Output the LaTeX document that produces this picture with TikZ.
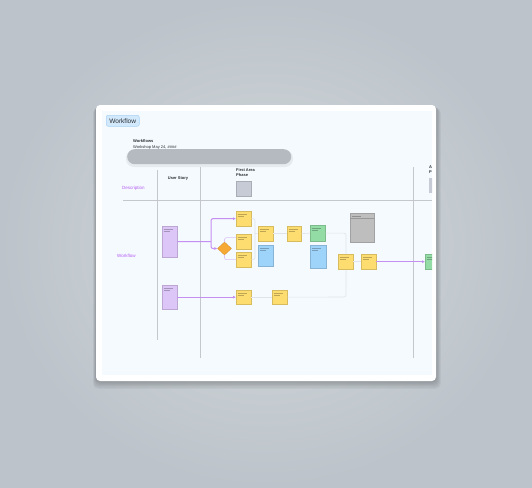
\documentclass[tikz,border=0pt]{standalone}
\usepackage{fontspec}
\setmainfont{Liberation Sans}
\usetikzlibrary{shapes.geometric}
\usetikzlibrary{arrows.meta}

\definecolor{bgcenter}{HTML}{D5DBDC}
\definecolor{bgedge}{HTML}{BCC3CA}
\definecolor{canvas}{HTML}{F5FAFE}
\definecolor{lanegray}{HTML}{C4C8CD}
\definecolor{linkgray}{HTML}{E0E4E8}
\definecolor{flowpurple}{HTML}{C58FF2}
\definecolor{softpurple}{HTML}{DCC0F7}
\definecolor{lanepurple}{HTML}{B45DF2}
\definecolor{notepurple}{HTML}{DCC5F7}
\definecolor{noteyellow}{HTML}{FDDC70}
\definecolor{noteblue}{HTML}{9FD4FA}
\definecolor{notegreen}{HTML}{93DCA5}
\definecolor{boxgray}{HTML}{BEBEBE}
\definecolor{chipgray}{HTML}{C6CBD6}
\definecolor{pillgray}{HTML}{B4BAC0}
\definecolor{tagblue}{HTML}{D2E8FB}
\definecolor{tagborder}{HTML}{A9D2F5}
\definecolor{decision}{HTML}{F6A935}
\definecolor{textdark}{HTML}{2B2F33}

\begin{document}
\begin{tikzpicture}[x=1pt,y=-1pt,
    note/.style={rectangle,anchor=north west,inner sep=0pt,fill=#1,draw=#1!85!black,line width=0.3pt,
        path picture={
            \draw[#1!75!black,line width=0.2pt] ([shift={(1.5pt,-2.5pt)}]path picture bounding box.north west) -- ++(9pt,0pt);
            \draw[#1!75!black,line width=0.2pt] ([shift={(1.5pt,-4.5pt)}]path picture bounding box.north west) -- ++(6pt,0pt);}},
    link/.style={draw=linkgray,line width=0.6pt,rounded corners=2pt},
    softflow/.style={draw=softpurple,line width=0.6pt,rounded corners=2pt},
    flowline/.style={draw=flowpurple,line width=1pt,rounded corners=2pt},
    flow/.style={flowline,-{Latex[length=3pt,width=3pt]}},
    lane/.style={draw=lanegray,line width=0.6pt},
    head/.style={font=\fontsize{4}{5}\selectfont\bfseries,text=textdark,align=left,inner sep=0pt},
    lanelabel/.style={font=\fontsize{4.5}{5}\selectfont,text=lanepurple,inner sep=0pt}
]
    \useasboundingbox (0,0) rectangle (532,487);
    \shade[inner color=bgcenter,outer color=bgedge] (0,0) rectangle (532,487);

    % card with soft shadow
    \foreach \s in {1,...,6} {
        \fill[black,opacity=0.04,rounded corners=5pt] (96-\s*0.5,105+\s*0.5) rectangle (436+\s*0.8,381+\s*1.3);
    }
    \fill[white,rounded corners=4pt] (96,105) rectangle (436,381);
    \fill[canvas] (102,111) rectangle (432,375);

    \begin{scope}
    \clip (102,111) rectangle (432,375);

    % header
    \node at (106,115) [anchor=north west,fill=tagblue,draw=tagborder,line width=0.5pt,rounded corners=2pt,
        minimum width=33pt,minimum height=11pt,inner sep=0pt,text=textdark,
        font=\fontsize{6.5}{7}\selectfont] (tag) {Workflow};
    \node at (133,141) [anchor=west,head] (title) {Workflows};
    \node at (133,147.5) [anchor=west,font=\fontsize{4}{5}\selectfont,text=textdark,inner sep=0pt] (date) {Workshop May 24, \#\#\#\#};
    \fill[black,opacity=0.06,rounded corners=8pt] (126,150) rectangle (293,167);
    \node at (127,149) [anchor=north west,fill=pillgray,rounded corners=7.5pt,
        minimum width=164pt,minimum height=15pt,inner sep=0pt] (pill) {};

    % lanes
    \coordinate (laneL) at (123,200);
    \coordinate (laneR) at (432,200);
    \draw[lane] (laneL) -- (laneR);
    \foreach \x/\top/\bot in {157/170/340,200/167/358,413/167/358} {
        \draw[lane] (\x,\top) -- (\x,\bot);
    }
    \node at (178,179) [head] (story) {User Story};
    \node at (236,168) [anchor=north west,head] (phase) {First Area\\Phase};
    \node at (235.5,181) [anchor=north west,fill=chipgray,draw=chipgray!85!black,line width=0.3pt,
        minimum width=15pt,minimum height=15pt,inner sep=0pt] (chip) {};
    \node at (429,166) [anchor=north west,head] (nextphase) {A\\P};
    \node at (429,178) [anchor=north west,fill=chipgray,minimum width=5pt,minimum height=15pt,inner sep=0pt] (nextchip) {};
    \node at (122,188) [anchor=west,lanelabel] (desc) {Description};
    \node at (117,256) [anchor=west,lanelabel] (work) {Workflow};

    % connectors behind the notes
    \coordinate (merge) at (255,233.5);
    \coordinate (drop) at (346,297);
    \coordinate (split) at (211,241.5);
    \node at (350,213) [note=boxgray,minimum width=24pt,minimum height=29pt] (gC) {};
    \node at (162,226) [note=notepurple,minimum width=15pt,minimum height=31pt] (pA) {};
    \node at (162,285) [note=notepurple,minimum width=15pt,minimum height=24pt] (pB) {};
    \node at (236,211) [note=noteyellow,minimum width=15pt,minimum height=15pt] (yA) {};
    \node at (236,234) [note=noteyellow,minimum width=15pt,minimum height=15pt] (yB) {};
    \node at (236,252) [note=noteyellow,minimum width=15pt,minimum height=15pt] (yC) {};
    \node at (236,290) [note=noteyellow,minimum width=15pt,minimum height=14pt] (yD) {};
    \node at (258,226) [note=noteyellow,minimum width=15pt,minimum height=15pt] (yE) {};
    \node at (258,245) [note=noteblue,minimum width=15pt,minimum height=21pt] (bA) {};
    \node at (287,226) [note=noteyellow,minimum width=14pt,minimum height=15pt] (yF) {};
    \node at (310,225) [note=notegreen,minimum width=15pt,minimum height=16pt] (gA) {};
    \node at (310,245) [note=noteblue,minimum width=16pt,minimum height=23pt] (bB) {};
    \node at (272,290) [note=noteyellow,minimum width=15pt,minimum height=14pt] (yI) {};
    \node at (425,254) [note=notegreen,minimum width=10pt,minimum height=15pt] (gB) {};
    \node at (224.5,248.5) [diamond,fill=decision,draw=decision!85!black,line width=0.3pt,
        minimum width=14pt,minimum height=13pt,inner sep=0pt] (dA) {};

    \draw[link] (yA.east) -| (merge);
    \draw[link] (yC.east) -| (merge);
    \draw[link] (merge) -- (yE.west);
    \draw[link] (yE.east) -- (yF.west);
    \draw[link] (yF.east) -- (gA.west);
    \draw[link] (gA.east) -| (drop) -- (yI.east);
    \draw[link] (yD.east) -- (yI.west);

    \node at (338,254) [note=noteyellow,minimum width=15pt,minimum height=15pt] (yG) {};
    \node at (361,254) [note=noteyellow,minimum width=15pt,minimum height=15pt] (yH) {};
    \draw[link] (yG.east) -- (yH.west);
    \draw[boxgray!80!black,line width=0.3pt] ([yshift=-5pt]gC.north west) -- ([yshift=-5pt]gC.north east);

    % main flow
    \draw[flowline] (pA.east) -- (split);
    \draw[flow] (split) |- (yA.west);
    \draw[flow] (split) |- (dA.west);
    \draw[softflow] (dA.north) |- ([yshift=4pt]yB.west);
    \draw[softflow] (dA.south) |- (yC.west);
    \draw[flow] (pB.east) -- (yD.west);
    \draw[flow] (yH.east) -- (gB.west);
    \end{scope}
\end{tikzpicture}
\end{document}
